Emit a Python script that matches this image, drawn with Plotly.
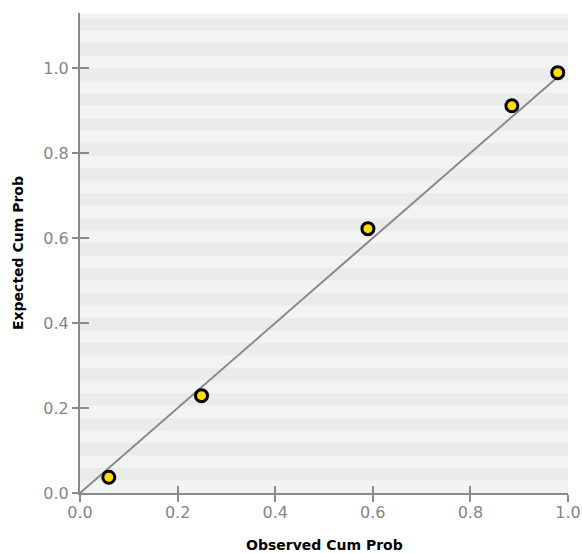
import plotly.graph_objects as go

observed = [0.059, 0.249, 0.590, 0.885, 0.979]
expected = [0.037, 0.229, 0.622, 0.911, 0.989]
ref_x = [0.0, 0.982]
ref_y = [0.0, 0.982]
tick_vals = [0.0, 0.2, 0.4, 0.6, 0.8, 1.0]
tick_text = ["0.0", "0.2", "0.4", "0.6", "0.8", "1.0"]
x_title = "Observed Cum Prob"
y_title = "Expected Cum Prob"

Y_MAX = 1.1294
STRIPE = 0.0294
LIGHT = "#f2f3f3"
DARK = "#eaebeb"
AXIS = "#8a8a8a"

fig = go.Figure()
fig.add_trace(go.Scatter(x=ref_x, y=ref_y, mode="lines",
                         line=dict(color="#888888", width=2), hoverinfo="skip",
                         showlegend=False))
fig.add_trace(go.Scatter(x=observed, y=expected, mode="markers",
                         marker=dict(size=12, color="#ffdf00",
                                     line=dict(color="#000000", width=3)),
                         showlegend=False))

shapes = []
k = 1
while k * STRIPE < Y_MAX:
    shapes.append(dict(type="rect", xref="paper", yref="y", x0=0, x1=1,
                       y0=k * STRIPE, y1=min((k + 1) * STRIPE, Y_MAX),
                       fillcolor=DARK, line=dict(width=0), layer="below"))
    k += 2

font_tick = dict(family="DejaVu Sans", size=16, color="#858585")
title_font = dict(family="DejaVu Sans", size=14, color="#000000")

fig.update_layout(
    width=582, height=553,
    margin=dict(l=80, r=14, t=13, b=60),
    paper_bgcolor="white", plot_bgcolor=LIGHT,
    shapes=shapes,
    xaxis=dict(range=[0, 1.0], tickvals=tick_vals, ticktext=tick_text,
               automargin=False, ticklabelstandoff=-3,
               showgrid=False, zeroline=False, showline=True, linecolor=AXIS,
               linewidth=2, ticks="outside", ticklen=7, tickwidth=2, tickcolor=AXIS,
               tickfont=font_tick),
    yaxis=dict(range=[0, Y_MAX], tickvals=tick_vals, ticktext=tick_text,
               automargin=False,
               showgrid=False, zeroline=False, showline=True, linecolor=AXIS,
               linewidth=2, ticks="outside", ticklen=6, tickwidth=2, tickcolor=AXIS,
               tickfont=font_tick),
    xaxis2=dict(range=[0, 1.0], tickvals=tick_vals, overlaying="x", side="bottom",
                anchor="y", showticklabels=False, showgrid=False, zeroline=False,
                automargin=False,
                ticks="inside", ticklen=7, tickwidth=2, tickcolor=AXIS),
    yaxis2=dict(range=[0, Y_MAX], tickvals=tick_vals, overlaying="y", side="left",
                anchor="x", showticklabels=False, showgrid=False, zeroline=False,
                automargin=False,
                ticks="inside", ticklen=9, tickwidth=2, tickcolor=AXIS),
    annotations=[
        dict(text="<b>" + x_title + "</b>", xref="paper", yref="paper",
             x=0.5, y=0, yshift=-52, xanchor="center", yanchor="middle",
             showarrow=False, font=title_font),
        dict(text="<b>" + y_title + "</b>", xref="paper", yref="paper",
             x=0, xshift=-62, y=0.5, xanchor="center", yanchor="middle",
             textangle=-90, showarrow=False, font=title_font),
    ],
)
fig.add_trace(go.Scatter(x=[None], y=[None], xaxis="x2", yaxis="y2",
                         showlegend=False, hoverinfo="skip"))

fig.write_html("out.html")
